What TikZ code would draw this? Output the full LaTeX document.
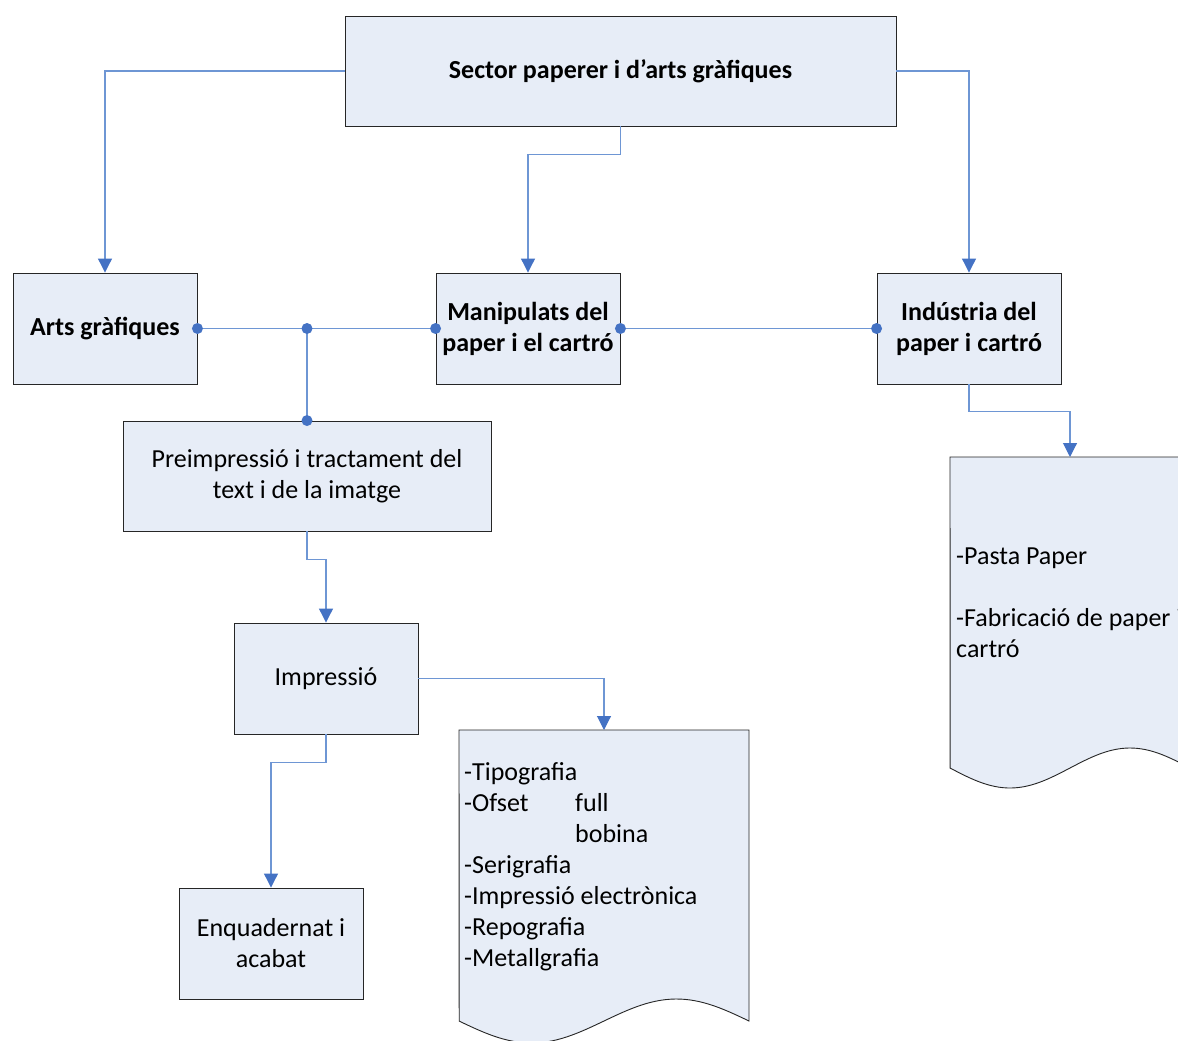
\documentclass[tikz,border=0pt]{standalone}
\usepackage{fontspec}
\setmainfont{Carlito}
\usetikzlibrary{arrows.meta}
\definecolor{boxfill}{RGB}{231,237,247}
\definecolor{boxline}{RGB}{38,38,38}
\definecolor{linkblue}{RGB}{110,150,212}
\definecolor{tipblue}{RGB}{68,114,196}

\begin{document}
\begin{tikzpicture}[x=1pt,y=-1pt,
  box/.style={draw=boxline, fill=boxfill, line width=0.9pt, align=center,
    inner sep=0pt, font=\fontsize{26}{31}\selectfont},
  headbox/.style={box, font=\fontsize{26}{31}\selectfont\bfseries},
  conn/.style={draw=linkblue, line width=1.1pt,
    -{Triangle[width=14pt,length=14pt,color=tipblue,fill=tipblue]}},
  link/.style={draw=linkblue, line width=1.1pt},
  docshape/.style={draw=boxline, fill=boxfill, line width=0.9pt},
  doctext/.style={align=left, inner sep=0pt, anchor=north west,
    font=\fontsize{26}{31}\selectfont},
]
\useasboundingbox (0,0) rectangle (1178,1041);
\clip (0,0) rectangle (1178,1041);
\fill[white] (0,0) rectangle (1178,1041);

% main boxes
\node[headbox, minimum width=551pt, minimum height=110pt] (sector) at (620.5,71) {Sector paperer i d’arts gràfiques};
\node[headbox, minimum width=184pt, minimum height=111pt] (arts) at (105,328.5) {Arts gràfiques};
\node[headbox, minimum width=184pt, minimum height=111pt] (manip) at (528,328.5) {Manipulats del\\paper i el cartró};
\node[headbox, minimum width=184pt, minimum height=111pt] (indus) at (969,328.5) {Indústria del\\paper i cartró};
\node[box, minimum width=368pt, minimum height=110pt] (preimp) at (307,476) {Preimpressió i tractament del\\text i de la imatge};
\node[box, minimum width=184pt, minimum height=111pt] (impr) at (326,678.5) {Impressió};
\node[box, minimum width=184pt, minimum height=111pt] (enq) at (271,943.5) {Enquadernat i\\acabat};

% document shapes with wavy lower edge
\draw[docshape] (459,730) -- (749,730) -- (749,1021)
  -- plot[domain=1:0, samples=60] ({459+290*\x}, {1021+22*sin(360*\x)}) -- cycle;
\coordinate (doca) at (604,730);
\draw[docshape] (950,457) -- (1190,457) -- (1190,768)
  -- plot[domain=1:0, samples=60] ({950+240*\x}, {768+20*sin(360*\x)}) -- cycle;
\coordinate (docb) at (1070,457);

\node[doctext] (lista) at (464,762) {-Tipografia\\
  \makebox[111pt][l]{-Ofset}full\\
  \hspace*{111pt}bobina\\
  -Serigrafia\\
  -Impressió electrònica\\
  -Repografia\\
  -Metallgrafia};
\node[doctext] (listb) at (956,548) {-Pasta Paper\\[31pt]
  -Fabricació de paper i\\
  cartró};

% arrows from the sector box
\draw[conn] (sector.west) -| (arts.north);
\draw[conn] (sector.south) -- ++(0,28) -| (manip.north);
\draw[conn] (sector.east) -| (indus.north);

% links between the three branches
\coordinate (joint) at (preimp.north |- arts.east);
\draw[link] (arts.east) -- (manip.west);
\draw[link] (joint) -- (preimp.north);
\draw[link] (manip.east) -- (indus.west);
\foreach \p in {arts.east, joint, manip.west, preimp.north, manip.east, indus.west}
  \fill[tipblue] (\p) circle (5.5pt);

% flow downwards
\draw[conn] (indus.south) -- ++(0,27) -| (docb);
\draw[conn] (preimp.south) -- ++(0,28) -| (impr.north);
\draw[conn] (impr.east) -| (doca);
\draw[conn] (impr.south) -- ++(0,28) -| (enq.north);
\end{tikzpicture}
\end{document}
